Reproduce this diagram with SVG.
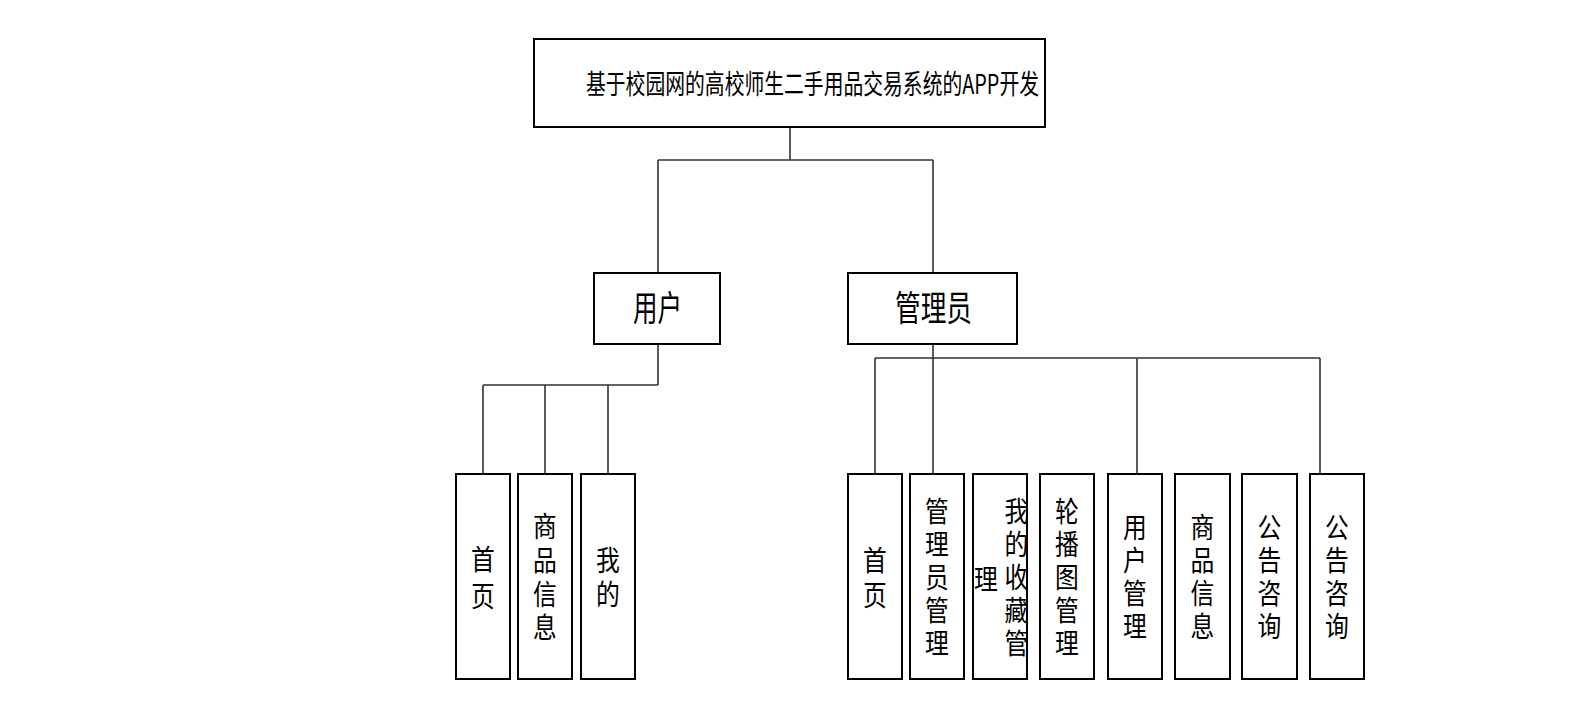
<svg xmlns="http://www.w3.org/2000/svg" width="1586" height="720" viewBox="0 0 1586 720">
<style>
  .box { fill: #ffffff; stroke: #000000; stroke-width: 2; }
  .conn { fill: none; stroke: #333333; stroke-width: 1.6; }
  .t { font-family: "Noto Sans CJK SC", "Liberation Sans", sans-serif; fill: #000000; }
  .leaf { font-size: 28px; text-anchor: middle; }
</style>
<rect width="1586" height="720" fill="#ffffff"/>
<g id="connectors">
  <path class="conn" d="M790,127 V160 M658,160 H933 M658,160 V273 M933,160 V273"/>
  <path class="conn" d="M658,344 V385 M483,385 H658 M483,385 V474 M545,385 V474 M608,385 V474"/>
  <path class="conn" d="M933,344 V474 M875,358 H1320 M875,358 V474 M1137,358 V474 M1320,358 V474"/>
</g>
<g id="root">
  <rect class="box" x="534" y="39" width="511" height="88"/>
  <text class="t" x="586" y="94" font-size="27" textLength="453" lengthAdjust="spacingAndGlyphs">基于校园网的高校师生二手用品交易系统的APP开发</text>
</g>
<g id="user">
  <rect class="box" x="594" y="273" width="126" height="71"/>
  <text class="t" x="633" y="321" font-size="35" textLength="49" lengthAdjust="spacingAndGlyphs">用户</text>
</g>
<g id="admin">
  <rect class="box" x="848" y="273" width="169" height="71"/>
  <text class="t" x="895" y="321" font-size="35" textLength="77" lengthAdjust="spacingAndGlyphs">管理员</text>
</g>
<g id="u-home">
  <rect class="box" x="456" y="474" width="54" height="205"/>
  <text class="t leaf" transform="translate(483,0) scale(0.85,1)"><tspan x="0" y="570.5">首</tspan><tspan x="0" y="607">页</tspan></text>
</g>
<g id="u-goods">
  <rect class="box" x="518" y="474" width="54" height="205"/>
  <text class="t leaf" transform="translate(545,0) scale(0.85,1)"><tspan x="0" y="537.5">商</tspan><tspan x="0" y="571.5">品</tspan><tspan x="0" y="605">信</tspan><tspan x="0" y="638.5">息</tspan></text>
</g>
<g id="u-mine">
  <rect class="box" x="581" y="474" width="54" height="205"/>
  <text class="t leaf" transform="translate(608,0) scale(0.85,1)"><tspan x="0" y="571.5">我</tspan><tspan x="0" y="605.5">的</tspan></text>
</g>
<g id="a-home">
  <rect class="box" x="848" y="474" width="54" height="205"/>
  <text class="t leaf" transform="translate(875,0) scale(0.85,1)"><tspan x="0" y="571.5">首</tspan><tspan x="0" y="606.5">页</tspan></text>
</g>
<g id="a-admin">
  <rect class="box" x="910" y="474" width="54" height="205"/>
  <text class="t leaf" transform="translate(937,0) scale(0.85,1)"><tspan x="0" y="522.5">管</tspan><tspan x="0" y="555.5">理</tspan><tspan x="0" y="588.5">员</tspan><tspan x="0" y="621.5">管</tspan><tspan x="0" y="654.5">理</tspan></text>
</g>
<g id="a-fav">
  <rect class="box" x="973" y="474" width="54" height="205"/>
  <text class="t leaf" transform="translate(1016.5,0) scale(0.85,1)"><tspan x="0" y="522.5">我</tspan><tspan x="0" y="555.5">的</tspan><tspan x="0" y="588.5">收</tspan><tspan x="0" y="621.5">藏</tspan><tspan x="0" y="654.5">管</tspan></text>
  <text class="t leaf" transform="translate(986,0) scale(0.85,1)"><tspan x="0" y="590.5">理</tspan></text>
</g>
<g id="a-banner">
  <rect class="box" x="1040" y="474" width="54" height="205"/>
  <text class="t leaf" transform="translate(1067,0) scale(0.85,1)"><tspan x="0" y="522.5">轮</tspan><tspan x="0" y="555.5">播</tspan><tspan x="0" y="588.5">图</tspan><tspan x="0" y="621.5">管</tspan><tspan x="0" y="654.5">理</tspan></text>
</g>
<g id="a-user">
  <rect class="box" x="1108" y="474" width="54" height="205"/>
  <text class="t leaf" transform="translate(1135,0) scale(0.85,1)"><tspan x="0" y="538.5">用</tspan><tspan x="0" y="571.5">户</tspan><tspan x="0" y="604.5">管</tspan><tspan x="0" y="637.5">理</tspan></text>
</g>
<g id="a-goods">
  <rect class="box" x="1175" y="474" width="55" height="205"/>
  <text class="t leaf" transform="translate(1202.5,0) scale(0.85,1)"><tspan x="0" y="538.5">商</tspan><tspan x="0" y="571.5">品</tspan><tspan x="0" y="604.5">信</tspan><tspan x="0" y="637.5">息</tspan></text>
</g>
<g id="a-notice1">
  <rect class="box" x="1242" y="474" width="55" height="205"/>
  <text class="t leaf" transform="translate(1269.5,0) scale(0.85,1)"><tspan x="0" y="538.5">公</tspan><tspan x="0" y="571.5">告</tspan><tspan x="0" y="604.5">咨</tspan><tspan x="0" y="637.5">询</tspan></text>
</g>
<g id="a-notice2">
  <rect class="box" x="1310" y="474" width="54" height="205"/>
  <text class="t leaf" transform="translate(1337,0) scale(0.85,1)"><tspan x="0" y="538.5">公</tspan><tspan x="0" y="571.5">告</tspan><tspan x="0" y="604.5">咨</tspan><tspan x="0" y="637.5">询</tspan></text>
</g>
</svg>
